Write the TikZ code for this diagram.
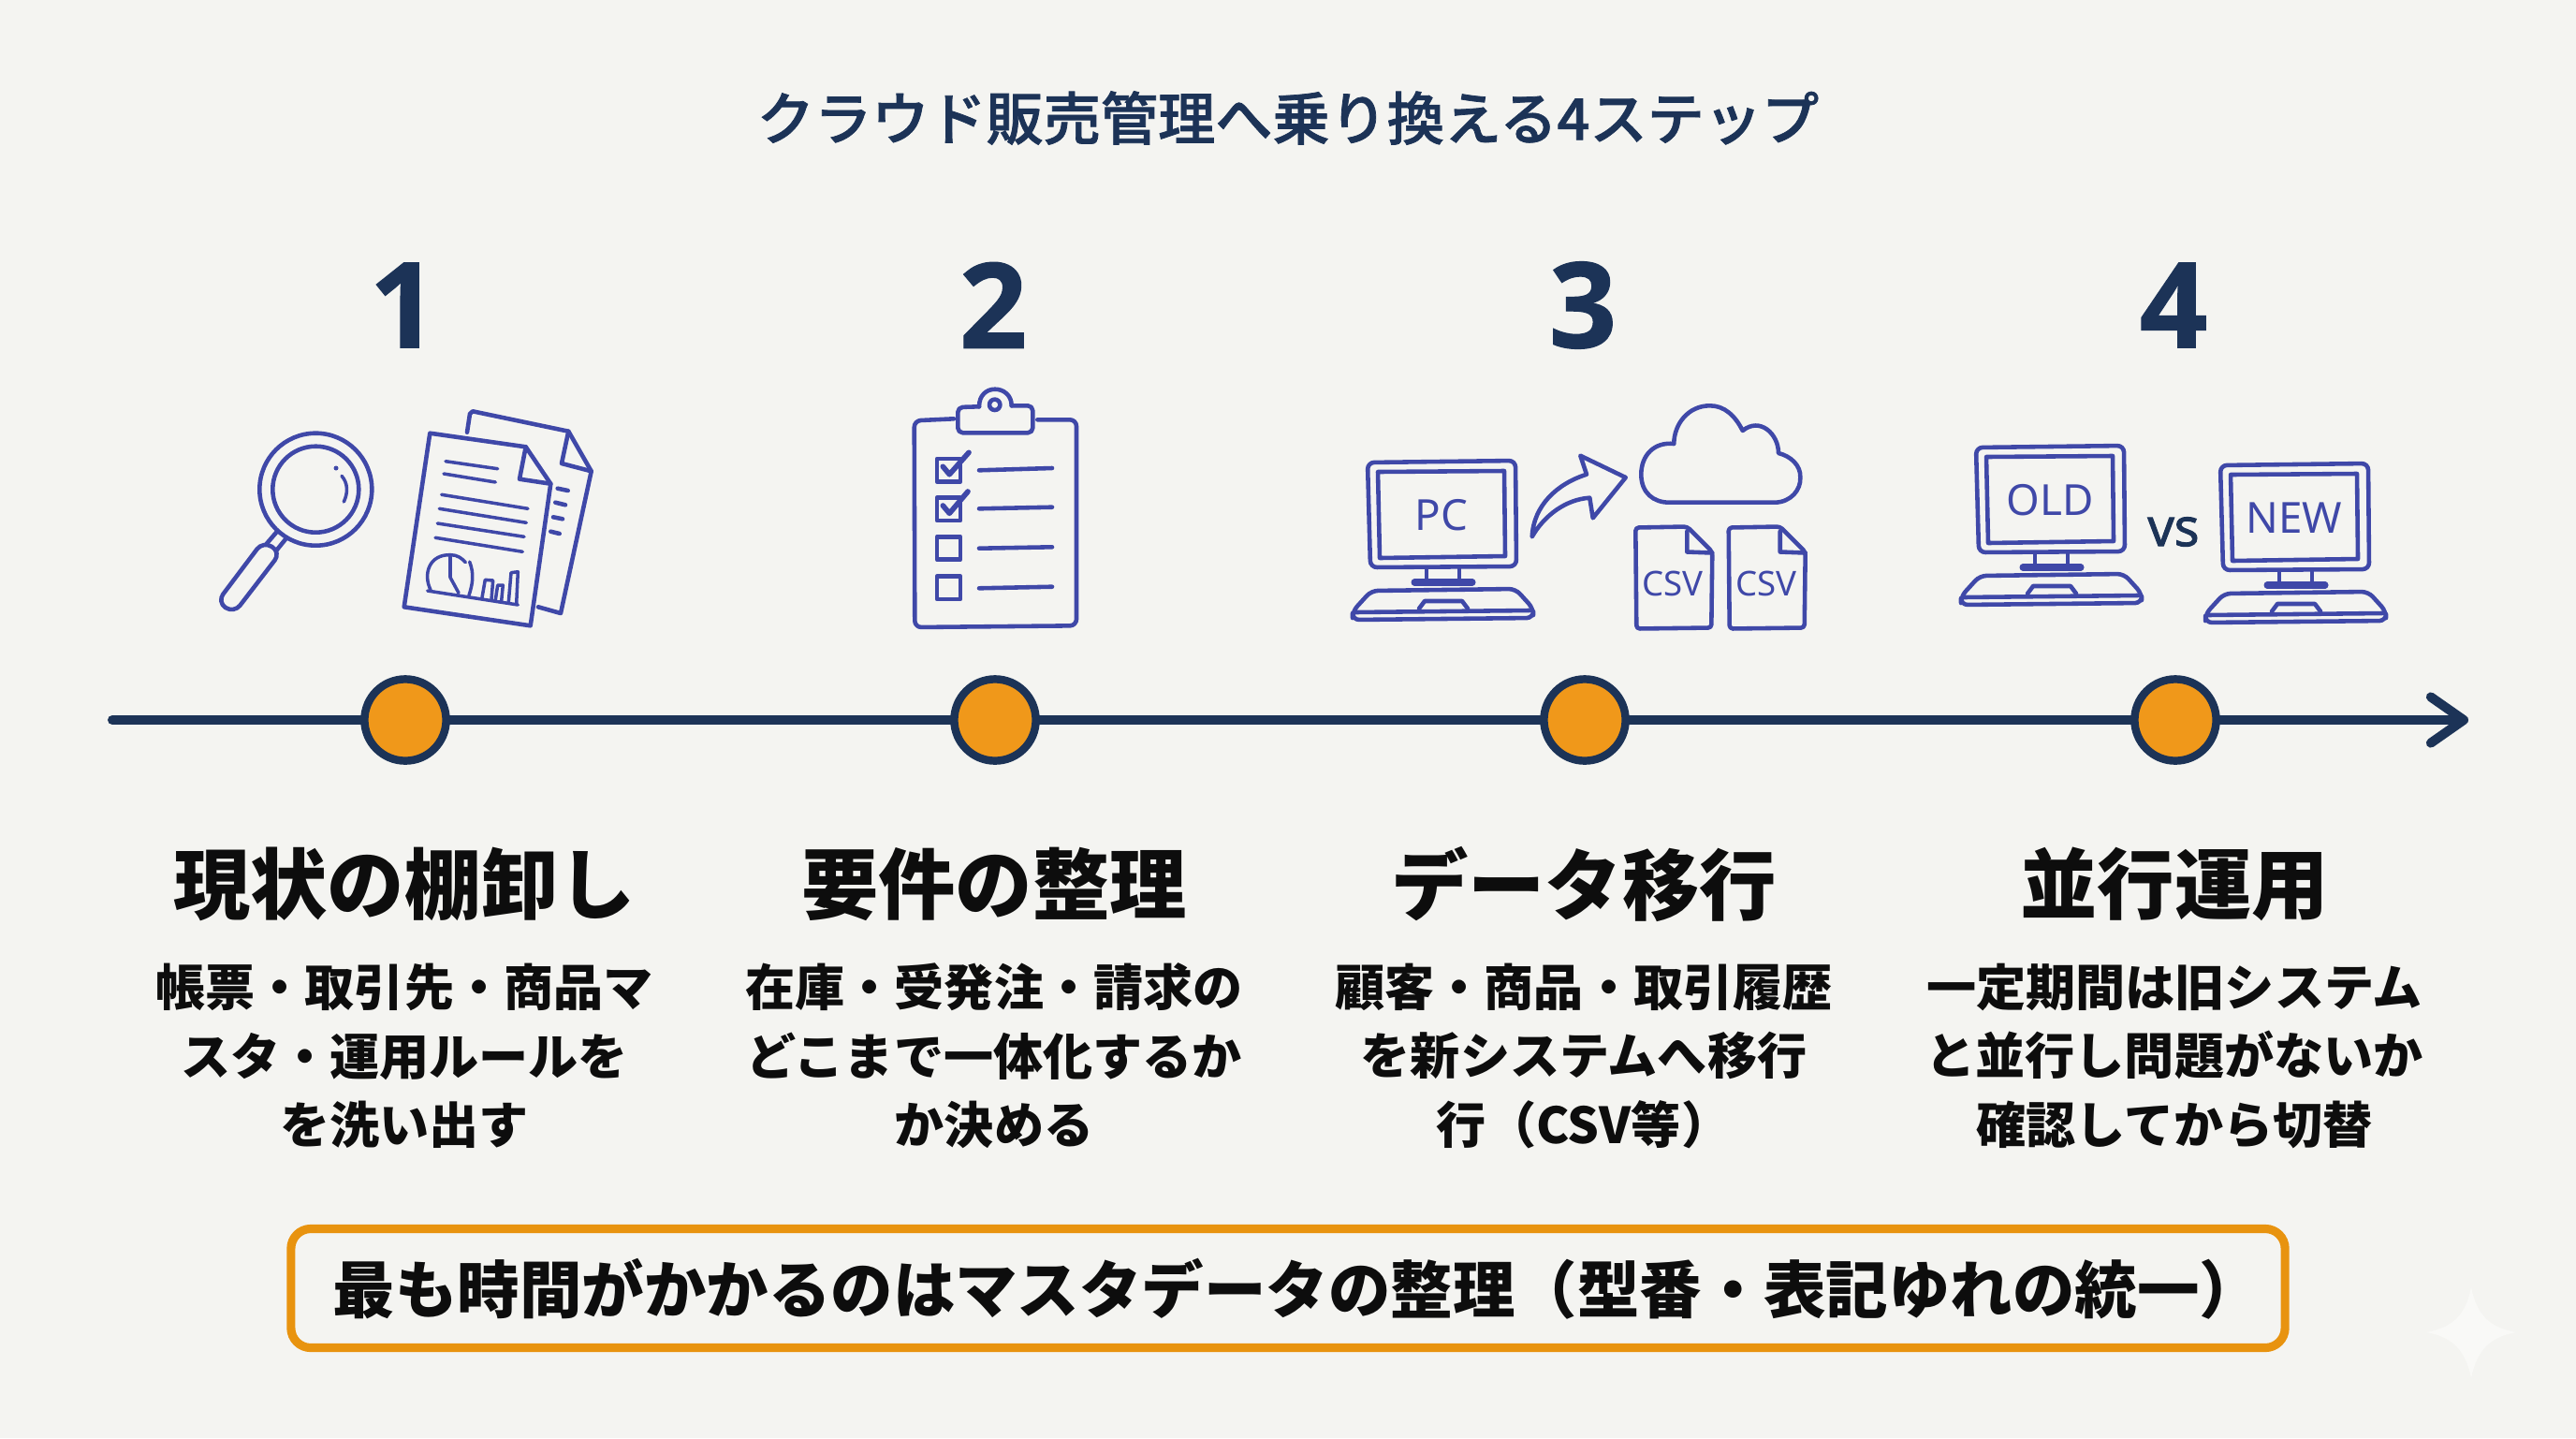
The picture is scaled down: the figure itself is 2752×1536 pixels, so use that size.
\documentclass[tikz,border=0pt]{standalone}
\usepackage{fontspec}
\usepackage{xcolor}
\usetikzlibrary{positioning,calc}
\usetikzlibrary{arrows.meta}
\newfontfamily\jpfont{Noto Sans CJK JP}
\newfontfamily\jpmedium[FakeBold=1.2]{Noto Sans CJK JP Medium}
\newfontfamily\latinfont{Noto Sans}
\newfontfamily\numfont[BoldFeatures={FakeBold=1}]{Open Sans}
\newfontfamily\versusfont[FakeBold=2]{Open Sans}
\newcommand{\fwopen}{\symbol{"FF08}}
\newcommand{\fwclose}{\symbol{"FF09}}
\definecolor{paper}{HTML}{F4F4F1}
\definecolor{spark}{HTML}{F9F9F7}
\definecolor{navy}{HTML}{1C3357}
\definecolor{amber}{HTML}{F0981A}
\definecolor{amberline}{HTML}{E8930F}
\definecolor{iconblue}{HTML}{3F48A8}
\definecolor{ink}{HTML}{0D0D0D}
\tikzset{
  icon/.style = {draw=iconblue, line width=1.3pt, line cap=round, line join=round},
  thin icon/.style = {icon, line width=1pt},
  title text/.style = {text=navy, font=\jpmedium\fontsize{17.4}{21}\selectfont},
  number text/.style = {text=navy, font=\numfont\bfseries\fontsize{36}{40}\selectfont},
  head text/.style = {text=ink, font=\jpfont\bfseries\fontsize{23.4}{28}\selectfont},
  body text/.style = {text=ink, align=center, font=\jpfont\bfseries\fontsize{15.1}{20.9}\selectfont},
  note text/.style = {text=ink, font=\jpfont\bfseries\fontsize{18.9}{24}\selectfont},
  screen text/.style = {text=iconblue, font=\latinfont\fontsize{13}{16}\selectfont},
  csv text/.style = {text=iconblue, font=\latinfont\fontsize{10.4}{13}\selectfont},
  timeline/.style = {draw=navy, line width=2.85pt, line cap=round},
  stepdot/.style = {circle, fill=amber, draw=navy, line width=2.4pt, minimum size=24.8pt, inner sep=0pt},
  pics/computer/.style = {code={
    \draw[icon, rounded corners=2pt] (0,0) -- (158,-2) -- (159,111) -- (3,112) -- cycle;
    \draw[icon] (11,10) -- (146,9) -- (147,100) -- (13,102) -- cycle;
    \node[screen text] (-label) at (79,56) {#1};
    \draw[icon] (63,113) -- (63,126);
    \draw[icon] (98,113) -- (98,126);
    \draw[icon, line width=2pt] (50,128) -- (112,128);
    \draw[icon, rounded corners=2pt] (4,137) -- (158,135) -- (177,156) -- (177,166) -- (-16,168) -- (-16,159) -- cycle;
    \draw[icon] (-14,160) -- (173,158);
    \draw[icon] (55,156) -- (61,148) -- (101,148) -- (107,156);
  }},
  pics/csvdoc/.style = {code={
    \draw[icon, rounded corners=1pt] (0,0) -- (55,-1) -- (82,26) -- (81,107) -- (1,108) -- cycle;
    \draw[icon] (55,4) -- (55,26) -- (82,27);
    \node[csv text] (-label) at (40,60) {#1};
  }},
}
\begin{document}
\begin{tikzpicture}[x=0.01cm,y=-0.01cm]
  \useasboundingbox (0,0) rectangle (2752,1536);
  \fill[paper] (0,0) rectangle (2752,1536);

  % corner sparkle
  \fill[spark] (2640,1375) .. controls (2646,1405) and (2660,1418) .. (2688,1423)
    .. controls (2660,1428) and (2646,1442) .. (2640,1472)
    .. controls (2634,1442) and (2620,1428) .. (2592,1423)
    .. controls (2620,1418) and (2634,1405) .. (2640,1375) -- cycle;

  \node[title text] (title) at (1376,126) {クラウド販売管理へ乗り換える4ステップ};

  % the four steps
  \foreach \n/\x/\head/\body in {
    1/433/現状の棚卸し/{帳票・取引先・商品マ\\スタ・運用ルールを\\を洗い出す},
    2/1063/要件の整理/{在庫・受発注・請求の\\どこまで一体化するか\\か決める},
    3/1693/データ移行/{顧客・商品・取引履歴\\を新システムへ移行\\行\fwopen CSV等\fwclose},
    4/2324/並行運用/{一定期間は旧システム\\と並行し問題がないか\\確認してから切替}} {
    \node[number text] (num\n) at (\x-2,326) {\n};
    \node[stepdot] (dot\n) at (\x,769) {};
    \node[head text] (head\n) at (\x-1,944) {\head};
    \node[body text] (body\n) at (\x-1,1128) {\body};
  }

  % timeline
  \coordinate (linestart) at (120,769);
  \coordinate (linetip) at (2637,769);
  \draw[timeline] (linestart) -- (dot1);
  \draw[timeline] (dot1) -- (dot2);
  \draw[timeline] (dot2) -- (dot3);
  \draw[timeline] (dot3) -- (dot4);
  \draw[timeline, -{Straight Barb[length=10pt,width=14pt,round]}] (dot4) -- (linetip);

  % step 1: magnifier
  \draw[icon] (337.3,522.7) circle (60);
  \draw[icon] (337.3,522.7) circle (46);
  \draw[icon] (296,567.7) -- (284,581.7);
  \draw[icon] (305,576) -- (295,588.3);
  \draw[icon, rounded corners=3pt] (281,578) -- (300,590) -- (250,655) -- (232,643) -- cycle;
  \draw[thin icon] (365,508.3) .. controls (371.7,516) and (372,526) .. (367.3,536);
  \fill[iconblue] (359,500) circle (2.5);

  % step 1: papers
  \draw[icon] (499,461.7) -- (502,442) -- (505,439.3) -- (607.3,460.7) -- (631.7,503.3) -- (599,655) -- (575,648.3);
  \draw[icon] (607.3,460.7) -- (600,495) -- (631.7,503.3);
  \draw[icon] (595.7,521.7) -- (606.7,524);
  \draw[icon] (593.3,536.7) -- (604,539.3);
  \draw[icon] (591,552.3) -- (601,554.3);
  \draw[icon] (588.3,567.7) -- (597.7,570);
  \draw[icon] (459.3,462.7) -- (561.7,477.3) -- (588.3,516.7) -- (566.7,668.3) -- (431.7,648.3) -- cycle;
  \draw[icon] (561.7,477.3) -- (555,511.7) -- (588.3,516.7);
  \draw[thin icon] (476,492.7) -- (531.7,500.7);
  \draw[thin icon] (474,506) -- (529.3,515);
  \draw[thin icon] (471.7,528.3) -- (564,543.3);
  \draw[thin icon] (469.3,543.3) -- (562.3,558.3);
  \draw[thin icon] (467.3,559) -- (560,573.3);
  \draw[thin icon] (465,574.3) -- (558.3,589.3);
  \draw[thin icon] (456.7,631) -- (553.3,646);
  \draw[thin icon] (460,630) .. controls (451.7,613.3) and (458.3,591.7) .. (481.7,592.7)
    .. controls (488.3,592.7) and (493.3,596) .. (497.3,600.7);
  \draw[thin icon] (481,594.3) -- (481,616.7) -- (490,633.3);
  \draw[thin icon] (501.7,600) .. controls (506.7,613.3) and (505,623.3) .. (501,636);
  \draw[thin icon] (515,638.3) -- (518.3,619.3) -- (526.7,620) -- (525,640);
  \draw[thin icon] (529.3,640.7) -- (531.7,625) -- (537.3,625) -- (535.7,641.7);
  \draw[thin icon] (543.3,643.3) -- (546,611.7) -- (553.3,610.7) -- (551.7,645);

  % step 2: clipboard
  \draw[icon, rounded corners=2pt] (1019,447.3) -- (976.7,449.3) -- (977.3,670) -- (1150,668.3) -- (1150,448.3) -- (1108.3,448.3);
  \draw[icon, rounded corners=1.5pt] (1046,434.3) -- (1023.3,435) -- (1023.3,462.3) -- (1103.3,462.3) -- (1103.3,433.3) -- (1080.7,433.3);
  \draw[icon] (1046,434.3) .. controls (1046,422) and (1054,415.7) .. (1063,415.7)
    .. controls (1072,415.7) and (1080.7,422) .. (1080.7,433.3);
  \draw[icon] (1062.7,432.3) circle (5.7);
  \draw[icon] (1001,490) rectangle (1026,514.3);
  \draw[icon] (1001,531.7) rectangle (1026,556);
  \draw[icon] (1001,573.3) rectangle (1026,597.7);
  \draw[icon] (1001,615.7) rectangle (1026,640);
  \draw[icon, line width=1.6pt] (1007.3,498.3) -- (1014.3,506.7) -- (1035,483.3);
  \draw[icon, line width=1.6pt] (1007.3,540) -- (1014.3,548.3) -- (1034,525);
  \draw[icon] (1046,502.3) -- (1124,500);
  \draw[icon] (1046,543.3) -- (1124,541.7);
  \draw[icon] (1046,585.7) -- (1124,584.3);
  \draw[icon] (1046,628.3) -- (1124,626.7);

  % step 3: pc, arrow, cloud and files
  \pic (pc) at (1461,494) {computer=PC};
  \draw[icon] (1636.7,573.3) .. controls (1638.3,540) and (1663.3,516.7) .. (1695,506.7)
    -- (1688.3,486.7) -- (1736.7,510) -- (1701.7,553.3) -- (1698.3,531.7)
    .. controls (1673.3,533.3) and (1650,550) .. (1636.7,573.3) -- cycle;
  \draw[icon] (1783.3,536.7) -- (1896.7,536.7)
    .. controls (1913.3,536) and (1924,523.3) .. (1923.3,510)
    .. controls (1924,497.3) and (1913.3,487.3) .. (1900,484)
    .. controls (1900,463.3) and (1880,445) .. (1861.7,460)
    .. controls (1853.3,443.3) and (1841.7,433.3) .. (1826.7,433.3)
    .. controls (1803.3,433.3) and (1788.3,453.3) .. (1788.3,474)
    .. controls (1766.7,471.7) and (1753.3,486.7) .. (1753.3,506.7)
    .. controls (1753.3,526.7) and (1766.7,536.7) .. (1783.3,536.7) -- cycle;
  \pic (csvA) at (1747.3,563.5) {csvdoc=CSV};
  \pic (csvB) at (1846.7,563.5) {csvdoc=CSV};

  % step 4: old vs new
  \pic (old) at (2111,478) {computer=OLD};
  \node[text=navy, font=\versusfont\fontsize{16}{20}\selectfont] (versus) at (2322,568) {vs};
  \pic (new) at (2372,497) {computer=NEW};

  % bottom note
  \node[draw=amberline, line width=2.6pt, rounded corners=6pt, minimum width=21.29cm,
    minimum height=1.27cm, inner sep=0pt, text height=17pt, text depth=2pt, note text] (note) at (1376,1376) {\hspace*{5.7pt}最も時間がかかるのはマスタデータの整理\fwopen 型番・表記ゆれの統一\fwclose};
\end{tikzpicture}
\end{document}
